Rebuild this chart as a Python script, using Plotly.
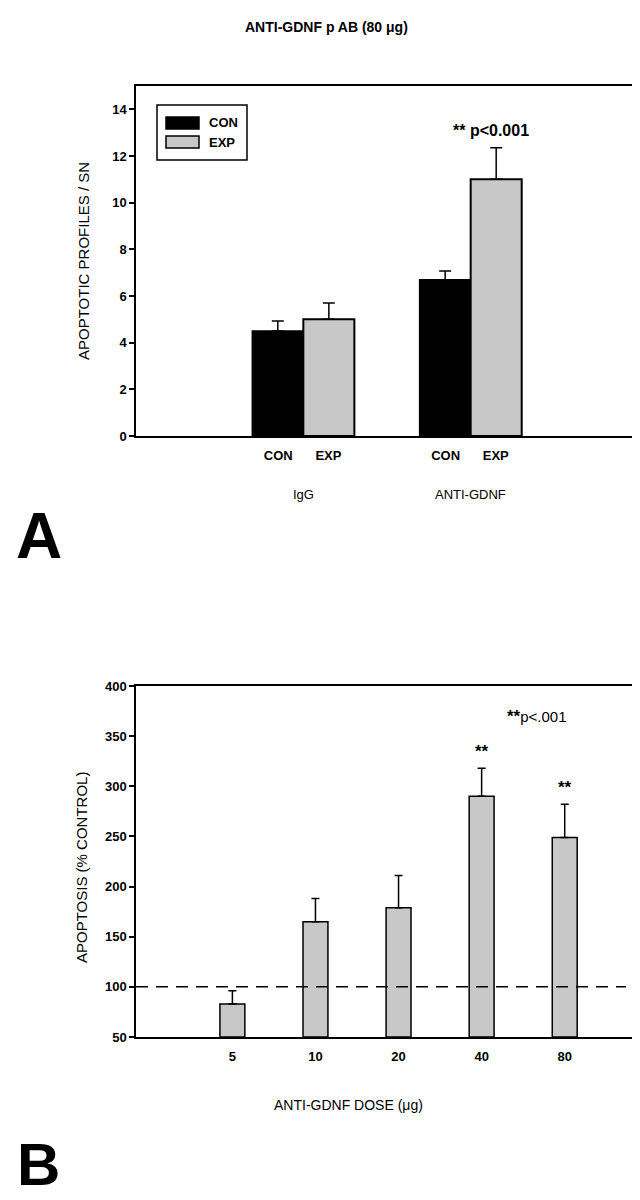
import plotly.graph_objects as go

# ---- Panel A data ----
groups_a = ["IgG", "ANTI-GDNF"]
group_pos_a = [1, 2]
series_a = ["CON", "EXP"]
con_vals = [4.5, 6.7]
con_err = [0.43, 0.37]
exp_vals = [5.0, 11.0]
exp_err = [0.7, 1.35]

# ---- Panel B data ----
doses = ["5", "10", "20", "40", "80"]
dose_pos = [0, 1, 2, 3, 4]
apop_vals = [83, 165, 179, 290, 249]
apop_err = [13, 23, 32, 28, 33]
sig_doses = [3, 4]
control_level = 100
b_floor = 50

W, H = 640, 1200
def px(x):
    return x / W
def py(y):
    return 1 - y / H

FONT = "Liberation Sans Narrow, Arial Narrow, Liberation Sans, Arial"
REG = "Liberation Sans, Arial"
GRAY = "#c8c8c8"
BK = "black"

fig = go.Figure()

fig.add_trace(go.Bar(
    x=group_pos_a, y=con_vals, name=series_a[0], showlegend=False,
    marker=dict(color=BK, line=dict(color=BK, width=1.5)),
    error_y=dict(type="data", symmetric=False, array=con_err, arrayminus=[0, 0],
                 color=BK, thickness=1.5, width=6),
    xaxis="x", yaxis="y",
))
fig.add_trace(go.Bar(
    x=group_pos_a, y=exp_vals, name=series_a[1], showlegend=False,
    marker=dict(color=GRAY, line=dict(color=BK, width=2)),
    error_y=dict(type="data", symmetric=False, array=exp_err, arrayminus=[0, 0],
                 color=BK, thickness=1.5, width=6),
    xaxis="x", yaxis="y",
))

fig.add_trace(go.Bar(
    x=dose_pos, y=[v - b_floor for v in apop_vals], base=b_floor, showlegend=False,
    marker=dict(color=GRAY, line=dict(color=BK, width=1.5)),
    width=0.3,
    error_y=dict(type="data", symmetric=False, array=apop_err,
                 arrayminus=[0] * len(apop_err),
                 color=BK, thickness=1.5, width=4),
    xaxis="x2", yaxis="y2",
))

tick_a = []
tick_a_text = []
for g in group_pos_a:
    tick_a += [g - 0.15, g + 0.15]
    tick_a_text += series_a

axis_common = dict(showline=True, linecolor=BK, linewidth=1.5, mirror=True,
                   showgrid=False, zeroline=False)
tickf = dict(family=FONT, size=13, color=BK, weight="bold")

fig.update_layout(
    width=W, height=H, autosize=False,
    margin=dict(l=0, r=0, t=0, b=0, autoexpand=False),
    paper_bgcolor="white", plot_bgcolor="white",
    barmode="group", bargap=0.39, bargroupgap=0,
    showlegend=False,
    xaxis=dict(domain=[px(128), px(630)], range=[0, 3], anchor="y",
               tickvals=tick_a, ticktext=tick_a_text, ticks="",
               tickfont=dict(family=FONT, size=13, color=BK, weight="bold"),
               ticklabelstandoff=7, **axis_common),
    yaxis=dict(domain=[py(428), py(78)], range=[0, 15], anchor="x",
               tickvals=[0, 2, 4, 6, 8, 10, 12, 14], ticks="outside", ticklen=5,
               tickcolor=BK, tickwidth=1.5, tickfont=tickf, **axis_common),
    xaxis2=dict(domain=[px(128), px(629)], range=[-1.16, 4.87], anchor="y2",
                tickvals=dose_pos, ticktext=doses, ticks="",
                tickfont=dict(family=FONT, size=13, color=BK, weight="bold"),
                ticklabelstandoff=7, **axis_common),
    yaxis2=dict(domain=[py(1029), py(678)], range=[50, 400], anchor="x2",
                tickvals=[50, 100, 150, 200, 250, 300, 350, 400], ticks="outside",
                ticklen=5, tickcolor=BK, tickwidth=1.5, tickfont=tickf, **axis_common),
)

# dashed control line at 100%
fig.add_shape(type="line", xref="x2 domain", yref="y2", x0=0, x1=0.978,
              y0=control_level, y1=control_level,
              line=dict(color=BK, width=1.5, dash="12px,8px"))

# legend box (panel A)
fig.add_shape(type="rect", xref="paper", yref="paper", x0=px(149), x1=px(239),
              y0=py(152), y1=py(97), line=dict(color=BK, width=1.5), fillcolor="white")
fig.add_shape(type="rect", xref="paper", yref="paper", x0=px(158), x1=px(191),
              y0=py(121), y1=py(109), line=dict(color=BK, width=1.5), fillcolor=BK)
fig.add_shape(type="rect", xref="paper", yref="paper", x0=px(158), x1=px(191),
              y0=py(140), y1=py(128), line=dict(color=BK, width=1.5), fillcolor=GRAY)

ann = []
def A(**kw):
    base = dict(showarrow=False, xanchor="center", yanchor="middle")
    base.update(kw)
    ann.append(base)

A(text="CON", x=px(199), y=py(115), xref="paper", yref="paper", xanchor="left",
  font=dict(family=FONT, size=13, color=BK, weight="bold"))
A(text="EXP", x=px(199), y=py(134), xref="paper", yref="paper", xanchor="left",
  font=dict(family=FONT, size=13, color=BK, weight="bold"))

A(text="ANTI-GDNF p AB (80 μg)", x=px(318), y=py(19), xref="paper", yref="paper",
  font=dict(family=FONT, size=14, color=BK, weight="bold"))
A(text="APOPTOTIC PROFILES / SN", x=px(76), y=py(253), xref="paper", yref="paper",
  textangle=-90, font=dict(family=REG, size=15, color=BK))
for g, name in zip(group_pos_a, groups_a):
    A(text=name, x=g, y=py(487), xref="x", yref="paper",
      font=dict(family=REG, size=13, color=BK))
A(text="** p<0.001", x=2.12, y=13.1, xref="x", yref="y",
  font=dict(family=FONT, size=16, color=BK, weight="bold"))
A(text="A", x=px(31), y=py(528), xref="paper", yref="paper",
  font=dict(family=REG, size=64, color=BK, weight="bold"))

A(text="APOPTOSIS (% CONTROL)", x=px(73), y=py(860), xref="paper", yref="paper",
  textangle=-90, font=dict(family=REG, size=15, color=BK))
A(text="ANTI-GDNF DOSE (μg)", x=px(340), y=py(1097), xref="paper", yref="paper",
  font=dict(family=REG, size=14, color=BK))
for i in sig_doses:
    A(text="**", x=dose_pos[i], y=apop_vals[i] + apop_err[i],
      xref="x2", yref="y2", yanchor="bottom", yshift=5,
      font=dict(family=FONT, size=17, color=BK, weight="bold"))
A(text="<b>**</b><span style='font-size:15px'>p<.001</span>", x=px(529), y=py(708),
  xref="paper", yref="paper", font=dict(family=REG, size=17, color=BK))
A(text="B", x=px(30), y=py(1156), xref="paper", yref="paper",
  font=dict(family=REG, size=60, color=BK, weight="bold"))

fig.update_layout(annotations=ann)

fig.write_html("out.html")
